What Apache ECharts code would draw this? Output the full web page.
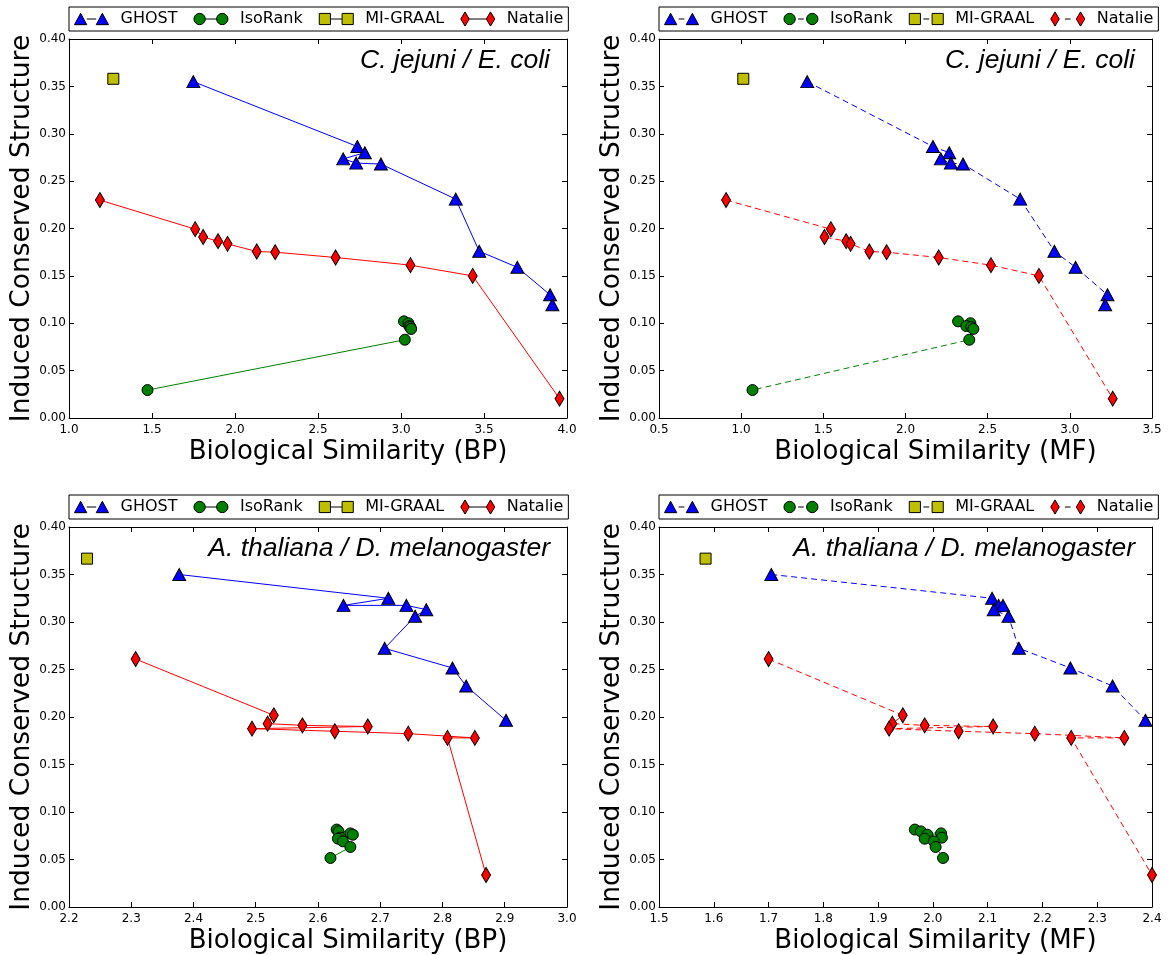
<!DOCTYPE html>
<html>
<head>
<meta charset="utf-8">
<script src="https://cdn.jsdelivr.net/npm/echarts@6.0.0/dist/echarts.min.js"></script>
<style>
html,body{margin:0;padding:0;background:#ffffff;}
#chart{width:1169px;height:955px;}
</style>
</head>
<body>
<div id="chart"></div>
<script>
// ---------------- Data ----------------
const methods = ['GHOST', 'IsoRank', 'MI-GRAAL', 'Natalie'];

// Tick labels
const yTicks = [0.00, 0.05, 0.10, 0.15, 0.20, 0.25, 0.30, 0.35, 0.40];
const xTicksCjBP = [1.0, 1.5, 2.0, 2.5, 3.0, 3.5, 4.0];
const xTicksCjMF = [0.5, 1.0, 1.5, 2.0, 2.5, 3.0, 3.5];
const xTicksAtBP = [2.2, 2.3, 2.4, 2.5, 2.6, 2.7, 2.8, 2.9, 3.0];
const xTicksAtMF = [1.5, 1.6, 1.7, 1.8, 1.9, 2.0, 2.1, 2.2, 2.3, 2.4];

// C. jejuni / E. coli
const cjGhostICS = [0.355, 0.2865, 0.280, 0.2735, 0.269, 0.268, 0.231, 0.176, 0.159, 0.130, 0.1195];
const cjGhostBP  = [1.749, 2.737, 2.782, 2.652, 2.730, 2.879, 3.330, 3.471, 3.701, 3.898, 3.912];
const cjGhostMF  = [1.402, 2.167, 2.266, 2.215, 2.276, 2.350, 2.698, 2.906, 3.035, 3.229, 3.215];

const cjIsoICS = [0.102, 0.100, 0.097, 0.096, 0.094, 0.0826, 0.0295];
const cjIsoBP  = [3.018, 3.045, 3.050, 3.057, 3.061, 3.023, 1.473];
const cjIsoMF  = [2.320, 2.395, 2.370, 2.400, 2.413, 2.388, 1.069];

const cjMiICS = [0.358];
const cjMiBP  = [1.267];
const cjMiMF  = [1.013];

const cjNatICS = [0.230, 0.1993, 0.191, 0.1866, 0.1838, 0.1757, 0.175, 0.1694, 0.1613, 0.150, 0.0204];
const cjNatBP  = [1.186, 1.760, 1.808, 1.898, 1.955, 2.131, 2.242, 2.606, 3.057, 3.432, 3.955];
const cjNatMF  = [0.908, 1.546, 1.507, 1.639, 1.666, 1.780, 1.885, 2.202, 2.520, 2.812, 3.261];

// A. thaliana / D. melanogaster
const atGhostICS = [0.350, 0.325, 0.3175, 0.3175, 0.313, 0.306, 0.2723, 0.2516, 0.2326, 0.1965];
const atGhostBP  = [2.377, 2.713, 2.641, 2.742, 2.774, 2.756, 2.707, 2.816, 2.838, 2.902];
const atGhostMF  = [1.705, 2.108, 2.120, 2.128, 2.111, 2.138, 2.157, 2.251, 2.328, 2.388];

const atIsoICS = [0.0815, 0.0796, 0.0775, 0.0761, 0.0730, 0.0719, 0.0691, 0.0632, 0.0516];
const atIsoBP  = [2.630, 2.633, 2.652, 2.656, 2.636, 2.632, 2.640, 2.652, 2.620];
const atIsoMF  = [1.967, 1.978, 2.015, 1.990, 2.0165, 1.985, 2.0016, 2.005, 2.0185];

const atMiICS = [0.3667];
const atMiBP  = [2.229];
const atMiMF  = [1.585];

const atNatICS = [0.261, 0.2018, 0.193, 0.1912, 0.190, 0.1877, 0.185, 0.1825, 0.178, 0.178, 0.0337];
const atNatBP  = [2.307, 2.529, 2.519, 2.575, 2.680, 2.494, 2.627, 2.745, 2.852, 2.808, 2.870];
const atNatMF  = [1.700, 1.945, 1.926, 1.985, 2.110, 1.920, 2.047, 2.186, 2.3495, 2.2525, 2.400];

const speciesCj = 'C. jejuni / E. coli';
const speciesAt = 'A. thaliana / D. melanogaster';
const yTitle = 'Induced Conserved Structure';
const xTitleBase = 'Biological Similarity';

// ---------------- Layout / style ----------------
const panels = [
  {grid: {left: 69, top: 39, width: 498, height: 379}, xTicks: xTicksCjBP, ont: 'BP', species: speciesCj, dashed: false,
   data: {GHOST: [cjGhostBP, cjGhostICS], IsoRank: [cjIsoBP, cjIsoICS], 'MI-GRAAL': [cjMiBP, cjMiICS], Natalie: [cjNatBP, cjNatICS]}},
  {grid: {left: 659, top: 39, width: 493, height: 379}, xTicks: xTicksCjMF, ont: 'MF', species: speciesCj, dashed: true,
   data: {GHOST: [cjGhostMF, cjGhostICS], IsoRank: [cjIsoMF, cjIsoICS], 'MI-GRAAL': [cjMiMF, cjMiICS], Natalie: [cjNatMF, cjNatICS]}},
  {grid: {left: 69, top: 527, width: 498, height: 380}, xTicks: xTicksAtBP, ont: 'BP', species: speciesAt, dashed: false,
   data: {GHOST: [atGhostBP, atGhostICS], IsoRank: [atIsoBP, atIsoICS], 'MI-GRAAL': [atMiBP, atMiICS], Natalie: [atNatBP, atNatICS]}},
  {grid: {left: 659, top: 527, width: 493, height: 380}, xTicks: xTicksAtMF, ont: 'MF', species: speciesAt, dashed: true,
   data: {GHOST: [atGhostMF, atGhostICS], IsoRank: [atIsoMF, atIsoICS], 'MI-GRAAL': [atMiMF, atMiICS], Natalie: [atNatMF, atNatICS]}}
];

const styleOf = {
  'GHOST':    {symbol: 'triangle', size: [13, 12], color: '#0000ff'},
  'IsoRank':  {symbol: 'circle',   size: 11,       color: '#008000'},
  'MI-GRAAL': {symbol: 'rect',     size: 11,       color: '#bfbf00'},
  'Natalie':  {symbol: 'diamond',  size: [9, 15],  color: '#ff0000'}
};

function conn(a, b, y, dashed) {
  if (dashed) { const m = (a + b) / 2; return ' M' + (m - 3) + ',' + y + 'L' + (m + 3) + ',' + y; }
  return ' M' + a + ',' + y + 'L' + b + ',' + y;
}
function legendIcon(name, dashed) {
  if (name === 'GHOST') return 'path://M0,14L6.5,2L13,14Z M23,14L29.5,2L36,14Z' + conn(13, 23, 8, dashed);
  if (name === 'IsoRank') return 'path://M0,7.5A6,6 0 1,1 12,7.5A6,6 0 1,1 0,7.5Z M24,7.5A6,6 0 1,1 36,7.5A6,6 0 1,1 24,7.5Z' + conn(12, 24, 7.5, dashed);
  if (name === 'MI-GRAAL') return 'path://M0.5,2H12V13.5H0.5Z M24,2H35.5V13.5H24Z' + conn(12, 24, 7.75, dashed);
  return 'path://M4.5,0L9,7.5L4.5,15L0,7.5Z M31.5,0L36,7.5L31.5,15L27,7.5Z' + conn(9, 27, 7.5, dashed);
}

const FONT = 'DejaVu Sans';
const axisLineStyle = {show: true, onZero: false, lineStyle: {color: '#000', width: 1}};
const tickStyle = {show: true, inside: true, length: 5, lineStyle: {color: '#000', width: 1}};

const grid = [], xAxis = [], yAxis = [], series = [], legend = [], graphic = [];

panels.forEach((p, gi) => {
  grid.push(Object.assign({containLabel: false, outerBoundsMode: 'none', show: false}, p.grid));
  const xMin = p.xTicks[0], xMax = p.xTicks[p.xTicks.length - 1];
  const xInt = +(p.xTicks[1] - p.xTicks[0]).toFixed(4);
  const yMin = yTicks[0], yMax = yTicks[yTicks.length - 1];
  const yInt = +(yTicks[1] - yTicks[0]).toFixed(4);

  xAxis.push({
    type: 'value', gridIndex: gi, position: 'bottom', min: xMin, max: xMax, interval: xInt,
    axisLine: axisLineStyle, axisTick: tickStyle, splitLine: {show: false},
    axisLabel: {show: true, color: '#000', fontSize: 12, fontFamily: FONT, margin: 6,
      showMinLabel: true, showMaxLabel: true, formatter: v => v.toFixed(1)},
    name: xTitleBase + ' (' + p.ont + ')', nameLocation: 'middle', nameGap: 21,
    nameTextStyle: {fontSize: 26, fontFamily: FONT, color: '#000', padding: [0, 0, 0, 60]}
  });
  xAxis.push({
    type: 'value', gridIndex: gi, position: 'top', min: xMin, max: xMax, interval: xInt,
    axisLine: axisLineStyle, axisTick: tickStyle, splitLine: {show: false}, axisLabel: {show: false}
  });
  yAxis.push({
    type: 'value', gridIndex: gi, position: 'left', min: yMin, max: yMax, interval: yInt,
    axisLine: axisLineStyle, axisTick: tickStyle, splitLine: {show: false},
    axisLabel: {show: true, color: '#000', fontSize: 12, fontFamily: FONT, margin: 3,
      showMinLabel: true, showMaxLabel: true, formatter: v => v.toFixed(2)},
    name: yTitle, nameLocation: 'middle', nameGap: 31,
    nameTextStyle: {fontSize: 26.5, fontFamily: FONT, color: '#000'}
  });
  yAxis.push({
    type: 'value', gridIndex: gi, position: 'right', min: yMin, max: yMax, interval: yInt,
    axisLine: axisLineStyle, axisTick: tickStyle, splitLine: {show: false}, axisLabel: {show: false}
  });

  methods.forEach(m => {
    const st = styleOf[m];
    const xs = p.data[m][0], ys = p.data[m][1];
    series.push({
      type: 'line', name: m, xAxisIndex: gi * 2, yAxisIndex: gi * 2,
      data: xs.map((x, i) => [x, ys[i]]),
      symbol: st.symbol, symbolSize: st.size, showSymbol: true, showAllSymbol: true,
      itemStyle: {color: st.color, borderColor: '#000', borderWidth: 1, opacity: 1},
      lineStyle: {color: st.color, width: 1, type: p.dashed ? [6, 4] : 'solid'},
      emphasis: {disabled: true}, silent: true, animation: false, clip: true
    });
  });

  legend.push({
    left: p.grid.left, top: p.grid.top - 32, orient: 'horizontal',
    itemWidth: 34, itemHeight: 15, itemGap: 16, padding: [4, 5, 4, 5],
    borderColor: '#000', borderWidth: 1, borderRadius: 0, backgroundColor: '#ffffff',
    selectedMode: false,
    itemStyle: {borderColor: '#000', borderWidth: 1},
    textStyle: {fontSize: 16, fontFamily: FONT, color: '#000', padding: [0, 0, 0, 7]},
    data: methods.map(m => ({name: m, icon: legendIcon(m, p.dashed)}))
  });

  graphic.push({
    type: 'text', x: p.grid.left + p.grid.width - 17, y: p.grid.top + 8, silent: true,
    style: {text: p.species, align: 'right', verticalAlign: 'top', textAlign: 'right', textVerticalAlign: 'top',
      font: 'italic 26.5px "Liberation Sans", Arial, sans-serif', fill: '#000'}
  });
});

const chart = echarts.init(document.getElementById('chart'), null, {renderer: 'canvas'});
chart.setOption({
  animation: false,
  backgroundColor: '#ffffff',
  grid, xAxis, yAxis, series, legend, graphic,
  tooltip: {show: false}
});
</script>
</body>
</html>
